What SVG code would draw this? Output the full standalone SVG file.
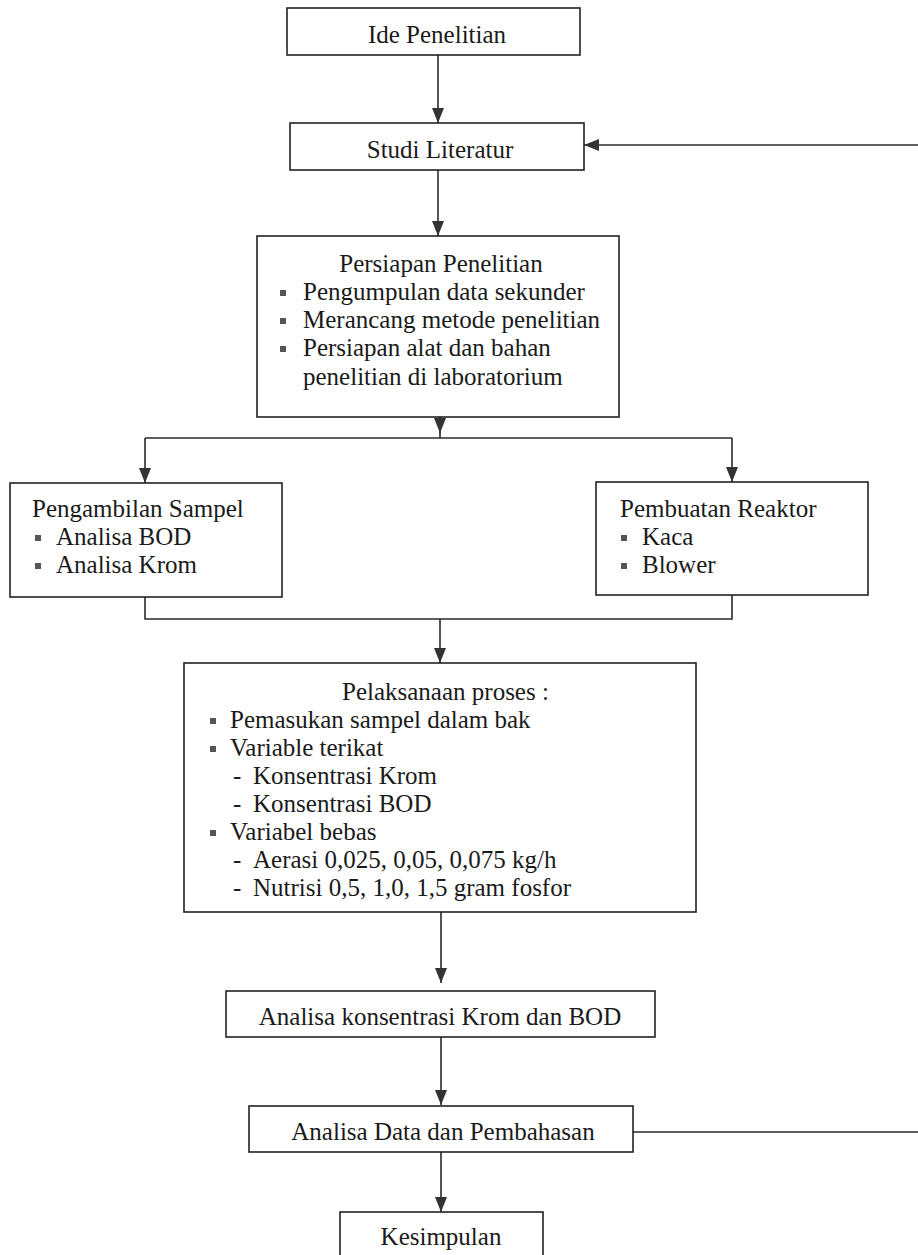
<svg xmlns="http://www.w3.org/2000/svg" width="918" height="1255" viewBox="0 0 918 1255">
<style>
.box{fill:#ffffff;stroke:#222;stroke-width:1.6}
.t{font-family:"Liberation Serif","Times New Roman",serif;font-size:25px;fill:#1a1a1a}
.c{text-anchor:middle}
.b{fill:#555}
.ln{fill:none;stroke:#2a2a2a;stroke-width:1.6}
.ar{fill:none;stroke:#2a2a2a;stroke-width:1.6;marker-end:url(#ah)}
</style>
<defs>
<marker id="ah" markerUnits="userSpaceOnUse" viewBox="0 0 15 12" markerWidth="15" markerHeight="12" refX="15" refY="6" orient="auto">
<path d="M0,0 L15,6 L0,12 z" fill="#333"/>
</marker>
</defs>
<rect width="918" height="1255" fill="#ffffff"/>
<g id="connectors">
<line class="ar" x1="438" y1="55" x2="438" y2="123"/>
<line class="ar" x1="918" y1="145" x2="584" y2="145"/>
<line class="ar" x1="438" y1="170" x2="438" y2="236"/>
<line class="ln" x1="440" y1="417" x2="440" y2="438"/>
<line class="ar" x1="440" y1="417" x2="440" y2="433"/>
<polyline class="ln" points="145,438 732,438"/>
<line class="ar" x1="145" y1="438" x2="145" y2="483"/>
<line class="ar" x1="732" y1="438" x2="732" y2="482"/>
<polyline class="ln" points="145,597 145,619 732,619 732,595"/>
<line class="ar" x1="440" y1="619" x2="440" y2="663"/>
<line class="ar" x1="441" y1="912" x2="441" y2="983"/>
<line class="ar" x1="441" y1="1037" x2="441" y2="1105"/>
<line class="ln" x1="633" y1="1132" x2="918" y2="1132"/>
<line class="ar" x1="441" y1="1143" x2="441" y2="1212"/>
</g>
<g id="ide">
<rect class="box" x="287" y="8" width="293" height="47"/>
<text class="t c" x="437" y="43">Ide Penelitian</text>
</g>
<g id="studi">
<rect class="box" x="290" y="123" width="294" height="47"/>
<text class="t c" x="440" y="158">Studi Literatur</text>
</g>
<g id="persiapan">
<rect class="box" x="257" y="236" width="362" height="181"/>
<text class="t c" x="441" y="272">Persiapan Penelitian</text>
<rect class="b" x="280" y="290" width="6" height="6"/>
<text class="t" x="303" y="300">Pengumpulan data sekunder</text>
<rect class="b" x="280" y="318" width="6" height="6"/>
<text class="t" x="303" y="328">Merancang metode penelitian</text>
<rect class="b" x="280" y="346" width="6" height="6"/>
<text class="t" x="303" y="356">Persiapan alat dan bahan</text>
<text class="t" x="303" y="385">penelitian di laboratorium</text>
</g>
<g id="pengambilan">
<rect class="box" x="10" y="483" width="272" height="114"/>
<text class="t" x="32" y="517">Pengambilan Sampel</text>
<rect class="b" x="35" y="535" width="6" height="6"/>
<text class="t" x="56" y="545">Analisa BOD</text>
<rect class="b" x="35" y="563" width="6" height="6"/>
<text class="t" x="56" y="573">Analisa Krom</text>
</g>
<g id="pembuatan">
<rect class="box" x="596" y="482" width="272" height="113"/>
<text class="t" x="620" y="517">Pembuatan Reaktor</text>
<rect class="b" x="621" y="535" width="6" height="6"/>
<text class="t" x="642" y="545">Kaca</text>
<rect class="b" x="621" y="563" width="6" height="6"/>
<text class="t" x="642" y="573">Blower</text>
</g>
<g id="pelaksanaan">
<rect class="box" x="184" y="663" width="512" height="249"/>
<text class="t" x="342" y="700">Pelaksanaan proses :</text>
<rect class="b" x="210" y="718" width="6" height="6"/>
<text class="t" x="230" y="728">Pemasukan sampel dalam bak</text>
<rect class="b" x="210" y="746" width="6" height="6"/>
<text class="t" x="230" y="756">Variable terikat</text>
<text class="t" y="784"><tspan x="233">-</tspan><tspan x="253">Konsentrasi Krom</tspan></text>
<text class="t" y="812"><tspan x="233">-</tspan><tspan x="253">Konsentrasi BOD</tspan></text>
<rect class="b" x="210" y="830" width="6" height="6"/>
<text class="t" x="230" y="840">Variabel bebas</text>
<text class="t" y="868"><tspan x="233">-</tspan><tspan x="253">Aerasi 0,025, 0,05, 0,075 kg/h</tspan></text>
<text class="t" y="896"><tspan x="233">-</tspan><tspan x="253">Nutrisi 0,5, 1,0, 1,5 gram fosfor</tspan></text>
</g>
<g id="konsentrasi">
<rect class="box" x="226" y="991" width="429" height="46"/>
<text class="t c" x="440" y="1025">Analisa konsentrasi Krom dan BOD</text>
</g>
<g id="analisa-data">
<rect class="box" x="249" y="1106" width="384" height="46"/>
<text class="t c" x="443" y="1140">Analisa Data dan Pembahasan</text>
</g>
<g id="kesimpulan">
<rect class="box" x="340" y="1212" width="203" height="60"/>
<text class="t c" x="441" y="1245">Kesimpulan</text>
</g>
</svg>
